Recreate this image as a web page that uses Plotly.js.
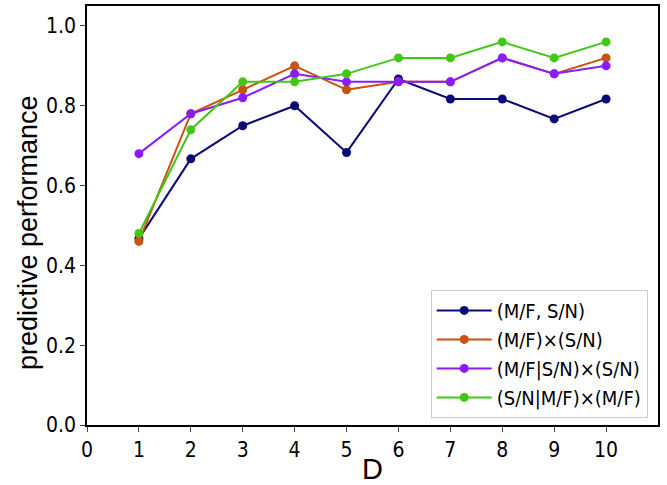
<!DOCTYPE html>
<html><head><meta charset="utf-8">
<script src="https://cdn.plot.ly/plotly-3.0.1.min.js"></script>
<style>body{margin:0}#c{width:667px;height:485px}</style>
</head><body><div id="c"></div>
<script>
const D = [1,2,3,4,5,6,7,8,9,10];
const names = ['(M/F, S/N)','(M/F)×(S/N)','(M/F|S/N)×(S/N)','(S/N|M/F)×(M/F)'];
const s1 = [0.467,0.667,0.75,0.80,0.683,0.867,0.817,0.817,0.767,0.817];
const s2 = [0.46,0.78,0.84,0.90,0.84,0.86,0.86,0.92,0.88,0.92];
const s3 = [0.68,0.78,0.82,0.88,0.86,0.86,0.86,0.92,0.88,0.90];
const s4 = [0.48,0.74,0.86,0.86,0.88,0.92,0.92,0.96,0.92,0.96];
const colors = ['#0b0b78','#c8520e','#8a1cff','#42c814'];
const series = [s1,s2,s3,s4];
const traces = series.map((s,i)=>({x:D,y:s,name:names[i],mode:'lines+markers',
  line:{color:colors[i],width:2},marker:{color:colors[i],size:9}}));
const narrow = '"DejaVu Sans Condensed", "Liberation Sans Narrow", sans-serif';
const arial = '"Liberation Sans", Arial, sans-serif';
Plotly.newPlot('c',traces,{
  width:667,height:485,margin:{l:87,r:9,t:6,b:60},
  paper_bgcolor:'white',plot_bgcolor:'white',
  font:{family:narrow,color:'black'},
  xaxis:{range:[0,11],tickvals:[0,1,2,3,4,5,6,7,8,9,10],ticks:'outside',ticklen:5,
    showgrid:false,zeroline:false,showline:true,mirror:true,linecolor:'black',linewidth:1.5,
    tickfont:{size:21},title:{text:'D',font:{size:29,family:arial},standoff:2}},
  yaxis:{range:[0,1.05],tickvals:[0,0.2,0.4,0.6,0.8,1.0],ticktext:['0.0','0.2','0.4','0.6','0.8','1.0'],
    ticks:'outside',ticklen:5,showgrid:false,zeroline:false,showline:true,mirror:true,linecolor:'black',linewidth:1.5,
    tickfont:{size:21}},
  annotations:[{text:'predictive performance',textangle:-90,xref:'paper',yref:'paper',
    x:0,y:0.458,xanchor:'right',yanchor:'middle',xshift:-42,showarrow:false,
    font:{size:27,family:arial,color:'black'}}],
  legend:{x:0.982,y:0.017,xanchor:'right',yanchor:'bottom',bordercolor:'#cccccc',borderwidth:1,
    bgcolor:'rgba(255,255,255,0.8)',font:{size:20},tracegroupgap:0,itemwidth:55}
},{displayModeBar:false});
</script></body></html>
